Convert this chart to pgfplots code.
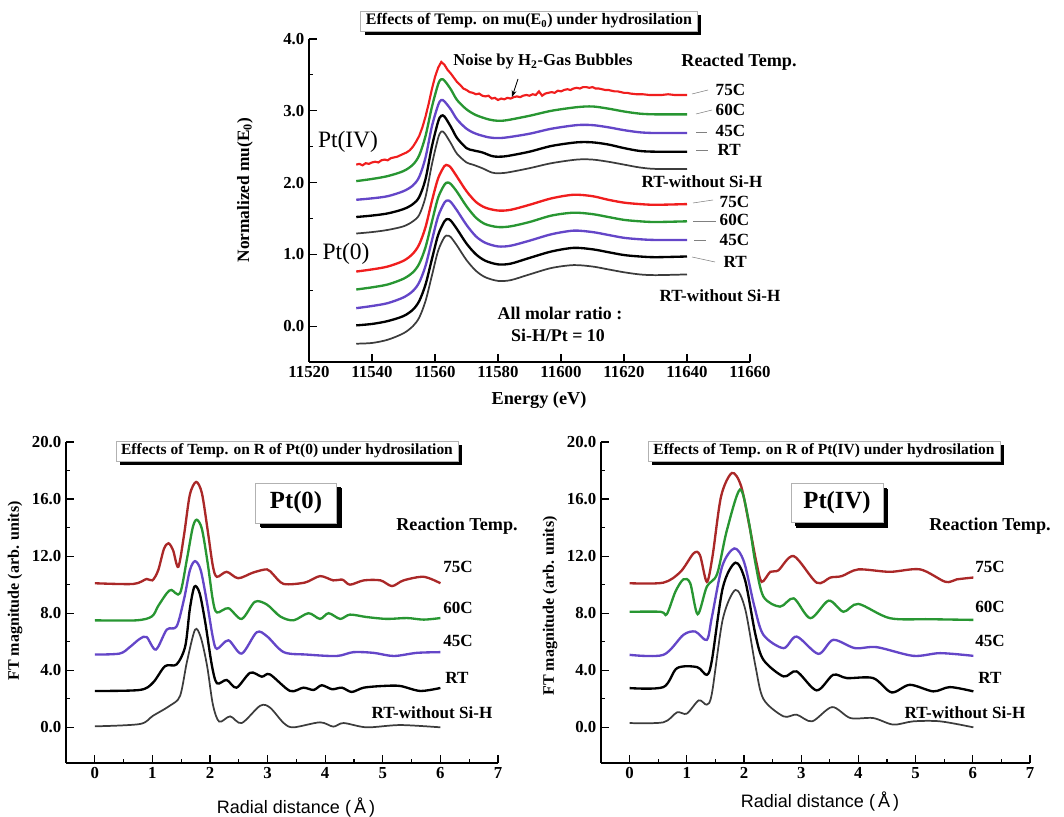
\documentclass[border=0pt]{standalone}
\usepackage{fontspec}
\setmainfont{Liberation Serif}
\setsansfont{Liberation Sans}
\usepackage{pgfplots}
\pgfplotsset{compat=1.18}
\usetikzlibrary{shadows,arrows.meta}
\definecolor{cred}{RGB}{240,30,30}
\definecolor{cgreen}{RGB}{40,150,50}
\definecolor{cpurple}{RGB}{100,70,200}
\definecolor{cgray}{RGB}{60,60,60}
\definecolor{cdred}{RGB}{170,40,40}
\newcommand{\fT}{\fontsize{12.6}{14}\selectfont\bfseries}
\pgfplotsset{
  myax/.style={scale only axis, axis lines=left,
    axis line style={-, line width=1.1pt},
    tick align=inside, major tick length=6pt, minor tick length=3pt,
    tick style={line width=0.9pt, black},
    ticklabel style={font=\fT},
    /pgf/number format/assume math mode=true,
    clip=false},
  ln/.style={line width=1.75pt, smooth, tension=0.5},
  yfmt/.style={y tick label style={/pgf/number format/fixed, /pgf/number format/fixed zerofill, /pgf/number format/precision=1}},
}
\begin{document}
\begin{tikzpicture}
\useasboundingbox (0,0) rectangle (798pt,612.75pt);
% ---------------- top panel ----------------
\begin{axis}[myax, yfmt, at={(231.75pt,341.25pt)}, anchor=south west,
  width=330.75pt, height=242.25pt,
  xmin=11520, xmax=11660, ymin=-0.5, ymax=4.0,
  xtick={11520,11540,...,11660}, minor x tick num=1,
  ytick={0,1,2,3,4}, minor y tick num=1,
  scaled x ticks=false,
  x tick label style={/pgf/number format/fixed, /pgf/number format/precision=0, /pgf/number format/set thousands separator={}},
  ]
% Pt(IV)
\addplot[cred, line width=1.6pt] coordinates {(11535,2.25)(11536,2.26)(11537,2.24)(11538,2.27)(11539,2.26)(11540,2.28)(11541,2.29)(11542,2.28)(11543,2.31)(11544,2.32)(11545,2.31)(11546,2.34)(11547,2.35)(11548,2.36)(11549,2.38)(11550,2.40)(11551,2.42)(11552,2.45)(11553,2.50)(11554,2.57)(11555,2.65)(11556,2.77)(11557,2.92)(11558,3.10)(11559,3.30)(11560,3.47)(11561,3.60)(11562,3.68)(11563,3.64)(11564,3.57)(11565,3.52)(11566,3.46)(11567,3.40)(11568,3.36)(11569,3.31)(11570,3.29)(11571,3.26)(11572,3.25)(11573,3.23)(11574,3.24)(11575,3.21)(11576,3.20)(11577,3.21)(11578,3.17)(11579,3.18)(11580,3.15)(11581,3.17)(11582,3.16)(11583,3.18)(11584,3.17)(11585,3.19)(11586,3.20)(11587,3.19)(11588,3.21)(11589,3.22)(11590,3.21)(11591,3.23)(11592,3.22)(11593,3.27)(11594,3.21)(11595,3.24)(11596,3.25)(11597,3.26)(11598,3.25)(11599,3.28)(11600,3.27)(11601,3.29)(11602,3.30)(11603,3.29)(11604,3.31)(11605,3.32)(11606,3.31)(11607,3.33)(11608,3.33)(11609,3.32)(11610,3.33)(11611,3.31)(11612,3.31)(11613,3.30)(11614,3.29)(11615,3.29)(11616,3.28)(11617,3.27)(11618,3.27)(11619,3.26)(11620,3.25)(11621,3.25)(11622,3.24)(11624,3.23)(11626,3.23)(11628,3.22)(11630,3.22)(11632,3.22)(11634,3.23)(11636,3.22)(11638,3.22)(11640,3.22)};
\addplot[cgreen, ln] coordinates {(11535,2.02)(11540,2.05)(11545,2.09)(11550,2.16)(11553,2.25)(11555,2.38)(11557,2.65)(11559,3.05)(11561,3.37)(11562,3.44)(11563,3.42)(11565,3.30)(11567,3.15)(11570,3.02)(11573,2.94)(11577,2.88)(11580,2.86)(11583,2.87)(11590,2.93)(11597,3.00)(11605,3.05)(11610,3.06)(11615,3.03)(11620,2.99)(11625,2.96)(11630,2.95)(11640,2.95)};
\addplot[cpurple, ln] coordinates {(11535,1.76)(11540,1.78)(11545,1.81)(11550,1.88)(11553,1.96)(11555,2.08)(11557,2.35)(11559,2.78)(11561,3.08)(11562,3.15)(11563,3.13)(11565,3.02)(11567,2.88)(11570,2.75)(11573,2.68)(11577,2.63)(11580,2.62)(11583,2.63)(11590,2.68)(11597,2.75)(11605,2.80)(11610,2.80)(11615,2.77)(11620,2.73)(11625,2.70)(11630,2.69)(11640,2.69)};
\addplot[black, ln] coordinates {(11535,1.52)(11540,1.54)(11545,1.57)(11550,1.63)(11553,1.70)(11555,1.80)(11557,2.05)(11559,2.50)(11561,2.85)(11562,2.93)(11563,2.92)(11565,2.78)(11567,2.62)(11570,2.48)(11572,2.45)(11575,2.42)(11578,2.37)(11580,2.36)(11583,2.37)(11590,2.43)(11597,2.51)(11605,2.56)(11610,2.56)(11615,2.53)(11620,2.48)(11625,2.44)(11630,2.43)(11640,2.43)};
\addplot[cgray, ln, line width=1.3pt] coordinates {(11535,1.29)(11540,1.31)(11545,1.34)(11550,1.39)(11553,1.46)(11555,1.55)(11557,1.80)(11559,2.25)(11561,2.62)(11562,2.71)(11563,2.69)(11565,2.55)(11567,2.40)(11570,2.28)(11572,2.25)(11575,2.20)(11578,2.14)(11580,2.13)(11583,2.14)(11590,2.20)(11597,2.27)(11605,2.32)(11610,2.32)(11615,2.29)(11620,2.25)(11625,2.21)(11630,2.19)(11640,2.19)};
% Pt(0)
\addplot[cred, ln] coordinates {(11535,0.76)(11540,0.79)(11545,0.83)(11550,0.91)(11553,1.01)(11555,1.14)(11557,1.38)(11559,1.74)(11561,2.06)(11563,2.23)(11564,2.24)(11565,2.21)(11567,2.08)(11570,1.88)(11573,1.73)(11576,1.65)(11580,1.61)(11584,1.62)(11590,1.69)(11597,1.78)(11604,1.83)(11610,1.81)(11615,1.76)(11620,1.72)(11625,1.70)(11630,1.69)(11640,1.70)};
\addplot[cgreen, ln] coordinates {(11535,0.51)(11540,0.54)(11545,0.58)(11550,0.66)(11553,0.75)(11555,0.87)(11557,1.10)(11559,1.45)(11561,1.79)(11563,1.97)(11564,2.00)(11565,1.98)(11567,1.87)(11570,1.67)(11573,1.51)(11576,1.42)(11580,1.38)(11584,1.39)(11590,1.45)(11597,1.54)(11604,1.58)(11610,1.56)(11615,1.52)(11620,1.48)(11625,1.46)(11630,1.45)(11640,1.46)};
\addplot[cpurple, ln] coordinates {(11535,0.25)(11540,0.28)(11545,0.32)(11550,0.40)(11553,0.49)(11555,0.61)(11557,0.84)(11559,1.19)(11561,1.53)(11563,1.72)(11564,1.75)(11565,1.73)(11567,1.61)(11570,1.41)(11573,1.25)(11576,1.16)(11580,1.11)(11584,1.12)(11590,1.19)(11597,1.28)(11604,1.33)(11610,1.31)(11615,1.27)(11620,1.23)(11625,1.21)(11630,1.20)(11640,1.20)};
\addplot[black, ln] coordinates {(11535,0.01)(11540,0.03)(11545,0.07)(11550,0.14)(11553,0.23)(11555,0.35)(11557,0.58)(11559,0.93)(11561,1.27)(11563,1.46)(11564,1.49)(11565,1.47)(11567,1.35)(11570,1.15)(11573,1.00)(11576,0.91)(11580,0.86)(11584,0.87)(11590,0.95)(11597,1.04)(11604,1.09)(11610,1.07)(11615,1.03)(11620,0.99)(11625,0.97)(11630,0.96)(11640,0.97)};
\addplot[cgray, ln, line width=1.3pt] coordinates {(11535,-0.245)(11540,-0.235)(11545,-0.19)(11550,-0.10)(11553,0.0)(11555,0.12)(11557,0.35)(11559,0.70)(11561,1.05)(11563,1.24)(11564,1.26)(11565,1.24)(11567,1.12)(11570,0.92)(11573,0.77)(11576,0.68)(11580,0.63)(11584,0.64)(11590,0.72)(11597,0.81)(11604,0.85)(11610,0.83)(11615,0.79)(11620,0.75)(11625,0.72)(11630,0.71)(11640,0.72)};
\end{axis}
% ---------------- bottom left ----------------
\begin{axis}[myax, yfmt, at={(49.5pt,40.5pt)}, anchor=south west,
  width=324pt, height=240.75pt,
  xmin=-0.5, xmax=7, ymin=-2.5, ymax=20,
  xtick={0,...,7}, minor x tick num=1,
  ytick={0,4,...,20}, minor y tick num=1,
  ]
\addplot[cdred, ln] coordinates {(0,10.1)(0.67,10.05)(0.9,10.4)(1.0,10.3)(1.1,11.0)(1.2,12.5)(1.28,12.9)(1.36,12.4)(1.45,11.25)(1.55,13.5)(1.65,16.3)(1.76,17.2)(1.86,16.4)(1.96,13.8)(2.05,11.3)(2.12,10.55)(2.29,10.9)(2.49,10.45)(2.75,10.85)(2.99,11.07)(3.1,10.7)(3.28,10.05)(3.65,10.15)(3.91,10.6)(4.14,10.3)(4.3,10.35)(4.43,10.0)(4.67,10.3)(4.96,10.3)(5.16,9.9)(5.36,10.3)(5.71,10.55)(6.0,10.1)};
\addplot[cgreen, ln] coordinates {(0,7.5)(0.72,7.5)(0.99,7.77)(1.1,8.5)(1.25,9.4)(1.33,9.63)(1.48,9.4)(1.6,11.8)(1.7,14.0)(1.77,14.55)(1.86,13.9)(1.96,11.5)(2.05,8.9)(2.12,8.05)(2.32,8.35)(2.55,7.6)(2.78,8.8)(2.99,8.6)(3.22,7.77)(3.45,7.5)(3.71,8.0)(3.91,7.6)(4.06,8.0)(4.26,7.6)(4.43,7.9)(4.72,7.73)(5.07,7.6)(5.42,7.66)(5.71,7.55)(6.0,7.66)};
\addplot[cpurple, ln] coordinates {(0,5.1)(0.43,5.17)(0.6,5.6)(0.78,6.2)(0.9,6.33)(1.06,5.45)(1.25,6.85)(1.42,7.07)(1.55,9.0)(1.65,11.0)(1.74,11.65)(1.84,11.0)(1.95,8.7)(2.05,6.3)(2.12,5.5)(2.32,6.1)(2.55,5.17)(2.81,6.66)(2.99,6.38)(3.28,5.27)(3.68,5.1)(4.2,5.0)(4.49,5.27)(4.84,5.22)(5.19,5.0)(5.59,5.22)(6.0,5.27)};
\addplot[black, ln] coordinates {(0,2.55)(0.78,2.62)(1.01,3.13)(1.22,4.29)(1.42,4.41)(1.57,5.68)(1.65,8.3)(1.73,9.86)(1.82,9.4)(1.92,7.3)(2.03,4.4)(2.12,3.09)(2.29,3.32)(2.46,2.78)(2.7,3.83)(2.9,3.55)(3.04,3.71)(3.39,2.55)(3.62,2.78)(3.8,2.62)(3.94,2.95)(4.12,2.67)(4.29,2.78)(4.46,2.48)(4.67,2.78)(5.01,2.9)(5.3,2.9)(5.65,2.55)(6.0,2.76)};
\addplot[cgray, ln, line width=1.3pt] coordinates {(0,0.07)(0.78,0.23)(1.01,0.81)(1.3,1.51)(1.48,2.2)(1.6,4.6)(1.74,6.84)(1.84,6.3)(1.95,4.3)(2.05,1.6)(2.16,0.4)(2.35,0.77)(2.55,0.3)(2.87,1.51)(3.04,1.39)(3.28,0.3)(3.45,0.0)(3.91,0.35)(4.14,0.05)(4.32,0.3)(4.72,0.0)(5.3,0.16)(6.0,0.0)};
\end{axis}
% ---------------- bottom right ----------------
\begin{axis}[myax, yfmt, at={(450.75pt,40.5pt)}, anchor=south west,
  width=321.75pt, height=240.75pt,
  xmin=-0.5, xmax=7, ymin=-2.5, ymax=20,
  xtick={0,...,7}, minor x tick num=1,
  ytick={0,4,...,20}, minor y tick num=1,
  ]
\addplot[cdred, ln] coordinates {(0,10.1)(0.59,10.14)(0.89,10.9)(1.12,12.2)(1.23,12.07)(1.35,10.2)(1.45,12.0)(1.6,16.2)(1.79,17.83)(1.95,16.9)(2.1,14.0)(2.22,11.5)(2.31,10.2)(2.46,10.9)(2.6,11.0)(2.87,12.0)(3.27,10.14)(3.51,10.5)(3.71,10.6)(4.0,11.07)(4.55,10.9)(5.08,11.07)(5.52,10.2)(5.72,10.37)(6.01,10.5)};
\addplot[cgreen, ln] coordinates {(0,8.1)(0.54,8.1)(0.65,7.93)(0.8,9.5)(0.94,10.37)(1.06,10.1)(1.19,7.93)(1.35,9.86)(1.53,10.75)(1.7,13.8)(1.93,16.67)(2.08,14.5)(2.2,11.5)(2.34,9.16)(2.63,8.46)(2.87,9.04)(3.16,7.65)(3.48,8.88)(3.74,8.1)(4.0,8.65)(4.55,7.65)(5.25,7.58)(6.01,7.53)};
\addplot[cpurple, ln] coordinates {(0,5.08)(0.59,5.08)(0.94,6.48)(1.15,6.71)(1.35,6.13)(1.44,7.76)(1.62,11.3)(1.83,12.54)(2.0,11.6)(2.18,8.5)(2.34,6.48)(2.69,5.55)(2.92,6.36)(3.3,5.15)(3.56,6.13)(3.94,5.55)(4.32,5.62)(4.96,5.01)(5.43,5.2)(6.01,5.01)};
\addplot[black, ln] coordinates {(0,2.75)(0.59,2.82)(0.83,4.15)(1.18,4.22)(1.35,3.68)(1.44,4.73)(1.63,9.8)(1.85,11.54)(2.02,10.3)(2.2,6.5)(2.34,4.73)(2.69,3.57)(2.92,3.92)(3.27,2.59)(3.56,3.68)(3.8,3.45)(4.26,3.45)(4.58,2.45)(4.9,2.98)(5.31,2.52)(5.6,2.82)(6.01,2.52)};
\addplot[cgray, ln, line width=1.3pt] coordinates {(0,0.3)(0.59,0.35)(0.83,1.05)(1.0,0.96)(1.21,1.89)(1.35,1.59)(1.44,2.4)(1.63,7.6)(1.85,9.63)(2.02,8.3)(2.2,4.3)(2.34,1.98)(2.69,0.77)(2.92,0.89)(3.19,0.42)(3.54,1.42)(3.86,0.65)(4.26,0.65)(4.61,0.19)(4.96,0.42)(5.43,0.42)(6.01,0.0)};
\end{axis}
% ---------------- annotations ----------------
\begin{scope}[x=0.75pt,y=0.75pt]
\tikzset{bt/.style={font=\fontsize{12.8}{14}\selectfont\bfseries},
  tbox/.style={draw=gray!60, fill=white, inner xsep=4pt, inner ysep=2pt,
    drop shadow={shadow xshift=3pt, shadow yshift=-3pt, fill=black, opacity=1}}}
% top
\node[tbox, font=\fontsize{12}{13}\selectfont\bfseries] at (529,796) {Effects of Temp. on mu(E$_{\mathbf 0}$) under hydrosilation};
\node[font=\fontsize{12.5}{14}\selectfont\bfseries] at (543,755) {Noise by H$_{\mathbf 2}$-Gas Bubbles};
\draw[-{Stealth[length=5pt]}, line width=0.6pt] (518,738) -- (512,720);
\node[font=\fontsize{13.6}{15}\selectfont\bfseries] at (739,755) {Reacted Temp.};
\draw[gray, line width=0.4pt] (692,723)--(708,727);
\node[bt, anchor=west] at (711,727) {75C};
\draw[gray, line width=0.4pt] (696,703)--(712,707);
\node[bt, anchor=west] at (711,707) {60C};
\draw[gray, line width=0.4pt] (696,685)--(707,685);
\node[bt, anchor=west] at (711,686) {45C};
\draw[gray, line width=0.4pt] (696,667)--(708,667);
\node[bt, anchor=west] at (713,667) {RT};
\node[bt] at (702,635) {RT-without Si-H};
\draw[gray, line width=0.4pt] (693,614)--(713,617);
\node[bt, anchor=west] at (715,615) {75C};
\draw[gray, line width=0.4pt] (693,596)--(716,596);
\node[bt, anchor=west] at (715,597) {60C};
\draw[gray, line width=0.4pt] (694,577)--(706,577);
\node[bt, anchor=west] at (715,577) {45C};
\draw[gray, line width=0.4pt] (692,560)--(715,555);
\node[bt, anchor=west] at (719,555) {RT};
\node[bt] at (720,521) {RT-without Si-H};
\node[font=\fontsize{17.6}{19}\selectfont] at (348,675) {Pt(IV)};
\node[font=\fontsize{17.6}{19}\selectfont] at (346,563) {Pt(0)};
\node[font=\fontsize{13.4}{15}\selectfont\bfseries] at (560,504) {All molar ratio :};
\node[font=\fontsize{13.4}{15}\selectfont\bfseries] at (558,482) {Si-H/Pt = 10};
\node[font=\fontsize{13}{15}\selectfont\bfseries, rotate=90] at (245,627) {Normalized mu(E$_{\mathbf 0}$)};
\node[font=\fontsize{13.7}{15}\selectfont\bfseries] at (539,417) {Energy (eV)};
% bottom left
\node[tbox, font=\fontsize{11.6}{13}\selectfont\bfseries] at (287,366) {Effects of Temp. on R of Pt(0) under hydrosilation};
\node[tbox, font=\fontsize{18.5}{20}\selectfont\bfseries, minimum width=60.75pt, minimum height=30pt, inner ysep=2pt, drop shadow={shadow xshift=4pt, shadow yshift=-4pt, fill=black, opacity=1}] at (296,314) {Pt(0)};
\node[font=\fontsize{13.6}{15}\selectfont\bfseries] at (457,291) {Reaction Temp.};
\node[bt] at (458,250) {75C};
\node[bt] at (458,209) {60C};
\node[bt] at (458,176) {45C};
\node[bt] at (457,139) {RT};
\node[bt] at (432,104) {RT-without Si-H};
\node[font=\fontsize{12}{14}\selectfont\bfseries, rotate=90] at (15,226) {FT magnitude (arb. units)};
\node[font=\fontsize{13.5}{15}\selectfont\sffamily] at (296,9) {Radial distance (\,Å\,)};
% bottom right
\node[tbox, font=\fontsize{11.6}{13}\selectfont\bfseries] at (824,366) {Effects of Temp. on R of Pt(IV) under hydrosilation};
\node[tbox, font=\fontsize{18.5}{20}\selectfont\bfseries, minimum width=69pt, minimum height=29pt, inner ysep=2pt, drop shadow={shadow xshift=4pt, shadow yshift=-4pt, fill=black, opacity=1}] at (837,314) {Pt(IV)};
\node[font=\fontsize{13.6}{15}\selectfont\bfseries] at (990,291) {Reaction Temp.};
\node[bt] at (990,250) {75C};
\node[bt] at (990,210) {60C};
\node[bt] at (990,176) {45C};
\node[bt] at (990,139) {RT};
\node[bt] at (965,104) {RT-without Si-H};
\node[font=\fontsize{12}{14}\selectfont\bfseries, rotate=90] at (550,211) {FT magnitude (arb. units)};
\node[font=\fontsize{13.5}{15}\selectfont\sffamily] at (820,15) {Radial distance (\,Å\,)};
\end{scope}
\end{tikzpicture}
\end{document}
